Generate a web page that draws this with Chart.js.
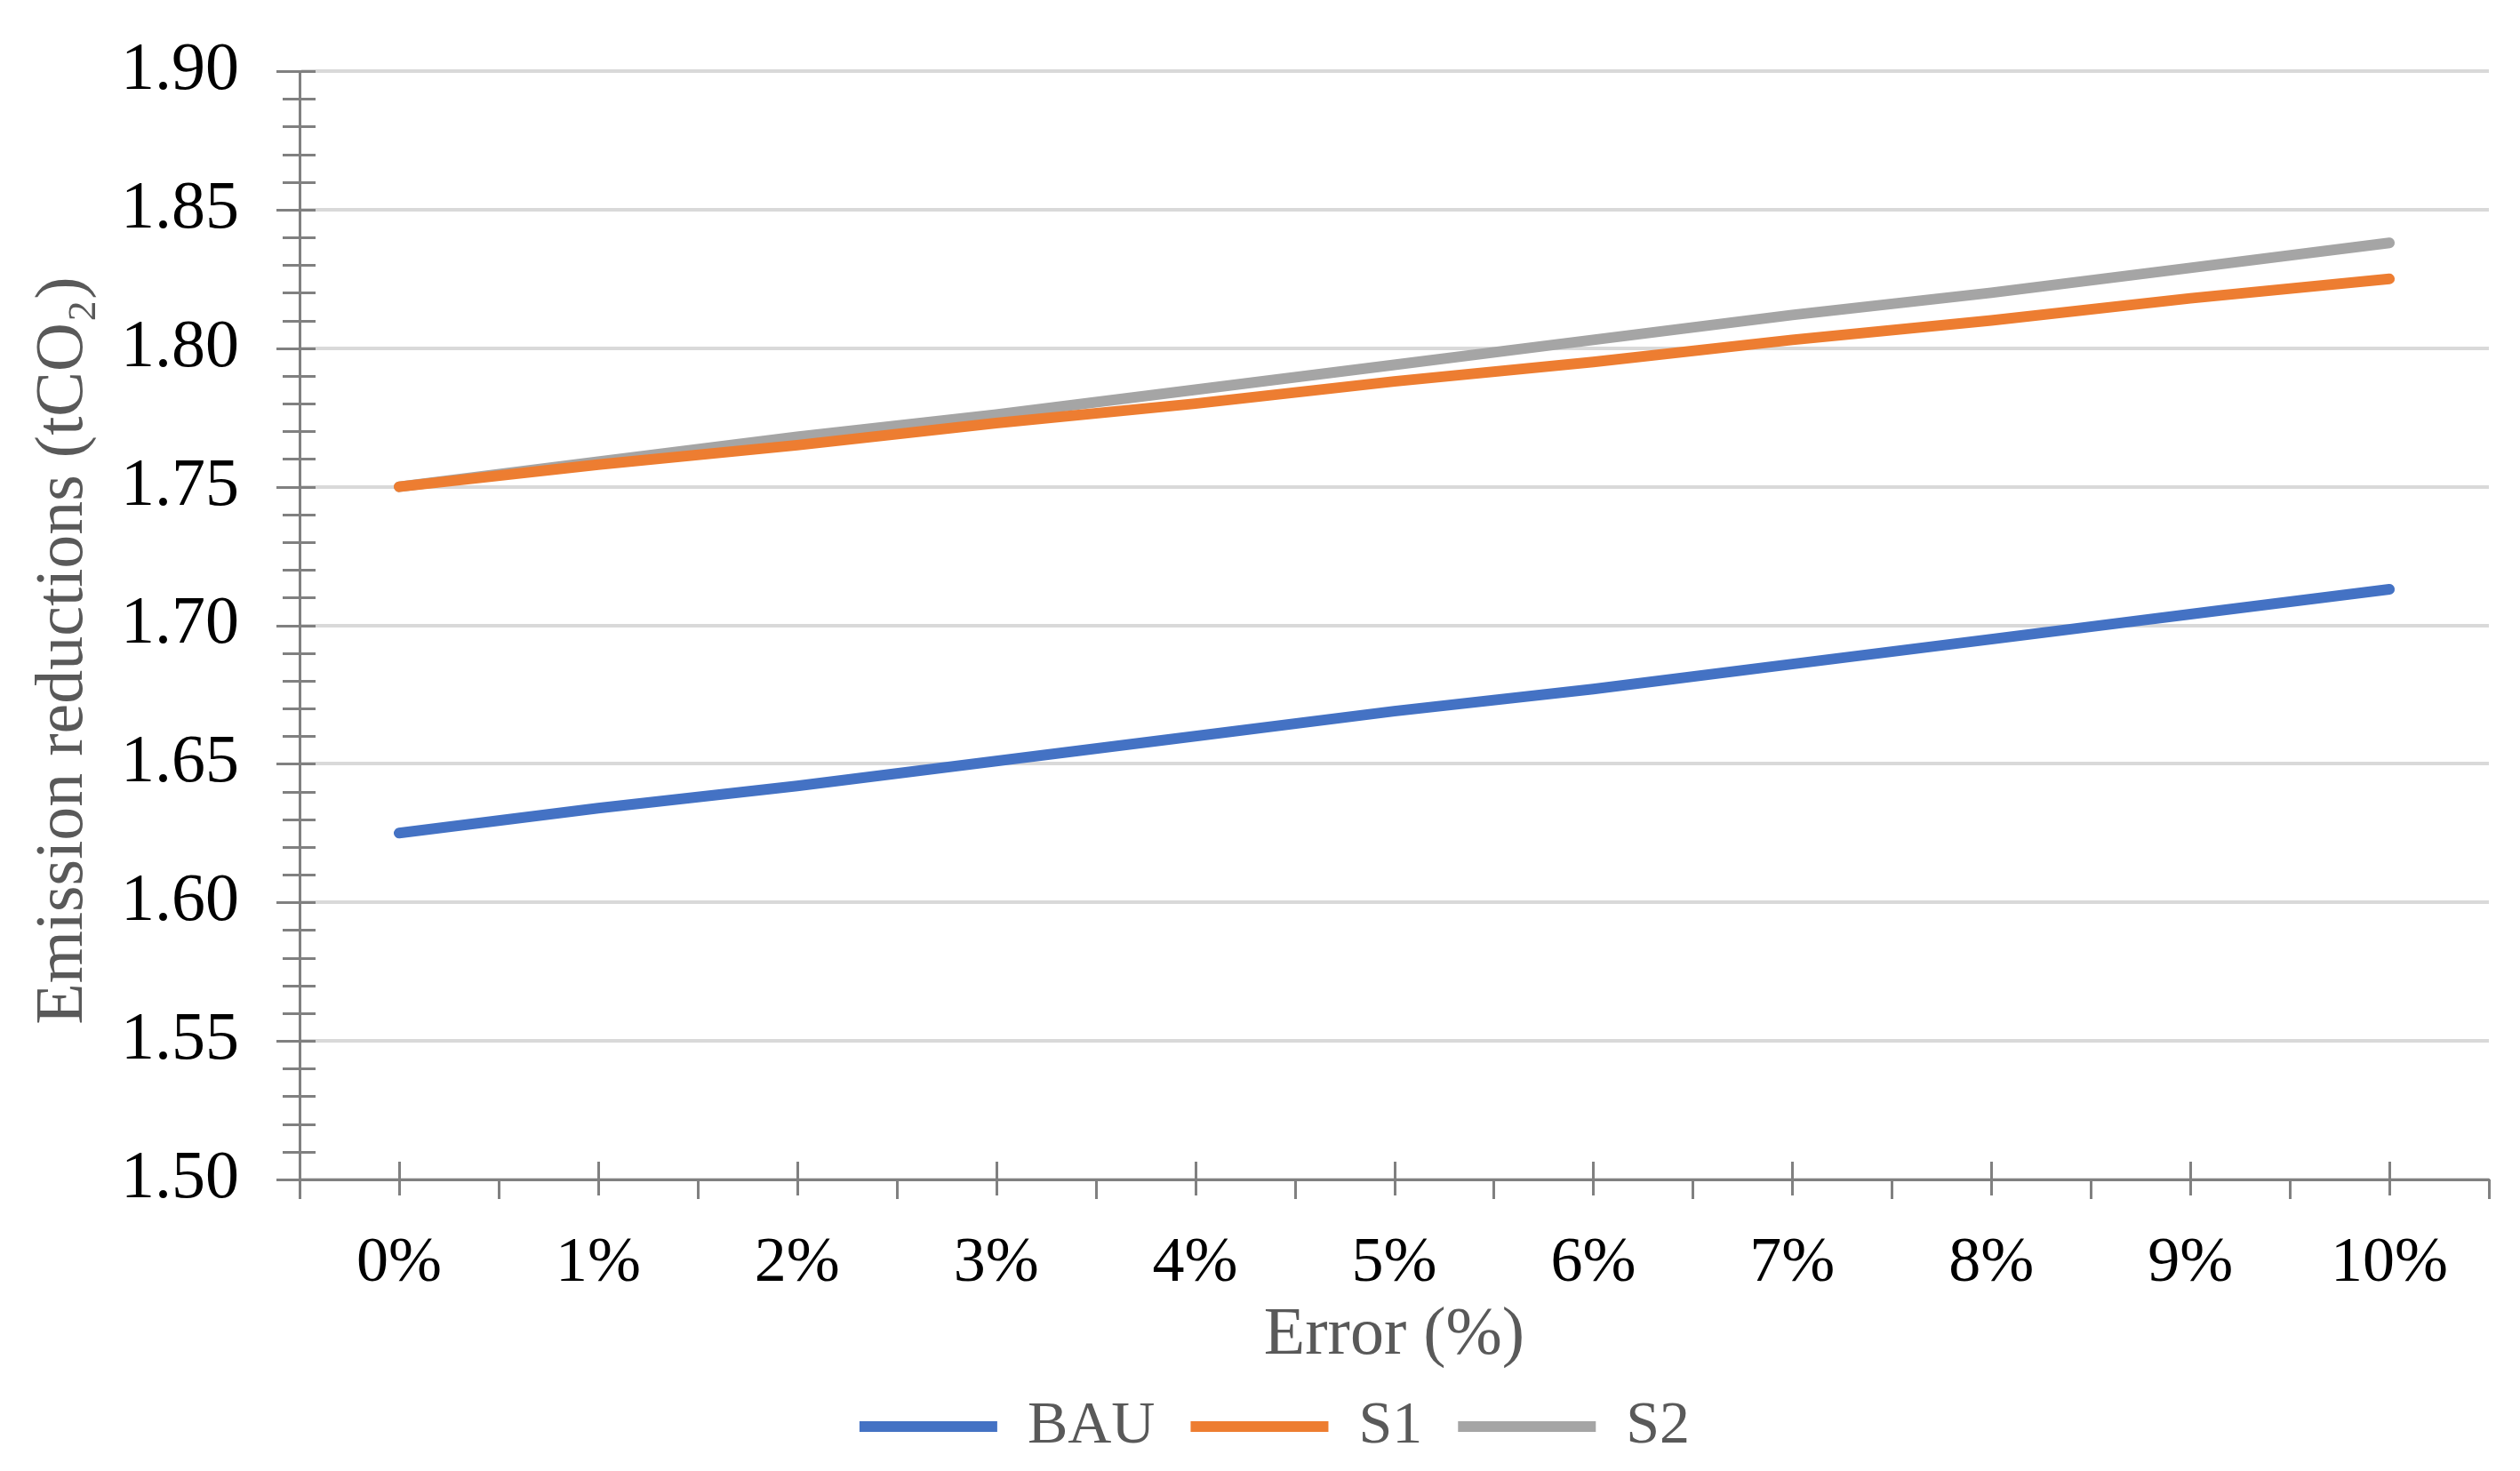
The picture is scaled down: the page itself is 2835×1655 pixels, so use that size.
<!DOCTYPE html>
<html>
<head>
<meta charset="utf-8">
<script src="https://cdn.jsdelivr.net/npm/chart.js@4/dist/chart.umd.min.js"></script>
<style>
  html, body { margin: 0; padding: 0; background: #fff; }
  #wrap { width: 2835px; height: 1655px; }
</style>
</head>
<body>
<div id="wrap"><canvas id="chart"></canvas></div>
<script>
var categories = ['0%', '1%', '2%', '3%', '4%', '5%', '6%', '7%', '8%', '9%', '10%'];
var bauValues = [1.625, 1.634, 1.642, 1.651, 1.660, 1.669, 1.677, 1.686, 1.695, 1.704, 1.713];
var s1Values = [1.750, 1.758, 1.765, 1.773, 1.780, 1.788, 1.795, 1.803, 1.810, 1.818, 1.825];
var s2Values = [1.750, 1.759, 1.768, 1.776, 1.785, 1.794, 1.803, 1.812, 1.820, 1.829, 1.838];
var yMin = 1.50;
var yMax = 1.90;
var yStep = 0.05;
var yMinorStep = 0.01;

var axisGray = '#808080';
var serif = '"Liberation Serif", "Times New Roman", serif';

// tick marks like the office chart: minor ticks on y, ticks at centres and boundaries on x
var tickMarks = {
    id: 'tickMarks',
    afterLayout: function (chart) {
        // legend text sits closer to its line in the original, nudge the block right
        if (chart.legend) {
            chart.legend.left += 34;
            chart.legend.right += 34;
        }
    },
    afterDraw: function (chart) {
        var ctx = chart.ctx;
        var x = chart.scales.x;
        var y = chart.scales.y;
        ctx.save();
        ctx.strokeStyle = axisGray;
        ctx.lineWidth = 3;
        ctx.beginPath();
        var n = Math.round((yMax - yMin) / yMinorStep);
        for (var i = 0; i <= n; i++) {
            var v = yMin + i * yMinorStep;
            var py = Math.round(y.getPixelForValue(v)) + 0.5;
            var major = i % 5 === 0;
            ctx.moveTo(x.left - (major ? 26 : 19), py);
            ctx.lineTo(x.left + 18, py);
        }
        var step = x.getPixelForValue(1) - x.getPixelForValue(0);
        for (var j = 0; j < categories.length; j++) {
            var cx = Math.round(x.getPixelForValue(j)) + 0.5;
            ctx.moveTo(cx, y.bottom - 20);
            ctx.lineTo(cx, y.bottom + 18);
            var bx = Math.round(x.getPixelForValue(j) + step / 2) + 0.5;
            ctx.moveTo(bx, y.bottom);
            ctx.lineTo(bx, y.bottom + 22);
        }
        var b0 = Math.round(x.getPixelForValue(0) - step / 2) + 0.5;
        ctx.moveTo(b0, y.bottom);
        ctx.lineTo(b0, y.bottom + 22);
        ctx.stroke();
        ctx.restore();
    }
};

function series(label, values, color) {
    return {
        label: label,
        data: values,
        borderColor: color,
        backgroundColor: color,
        borderWidth: 12,
        borderCapStyle: 'round',
        borderJoinStyle: 'round',
        pointRadius: 0,
        pointHoverRadius: 0,
        pointStyle: 'line',
        tension: 0
    };
}

new Chart(document.getElementById('chart'), {
    type: 'line',
    data: {
        labels: categories,
        datasets: [
            series('BAU', bauValues, '#4472C4'),
            series('S1', s1Values, '#ED7D31'),
            series('S2', s2Values, '#A5A5A5')
        ]
    },
    options: {
        responsive: true,
        maintainAspectRatio: false,
        animation: false,
        devicePixelRatio: 1,
        layout: { padding: { top: 80, right: 35, bottom: 6, left: 0 } },
        plugins: {
            tooltip: { enabled: false },
            legend: {
                position: 'bottom',
                labels: {
                    usePointStyle: true,
                    pointStyle: 'line',
                    pointStyleWidth: 155,
                    boxHeight: 10,
                    padding: 40,
                    color: '#595959',
                    font: { family: serif, size: 68 }
                }
            }
        },
        scales: {
            x: {
                offset: true,
                afterFit: function (scale) { scale.height = 204; },
                grid: { display: false, drawTicks: false },
                border: { display: true, color: axisGray, width: 3 },
                ticks: {
                    padding: 52,
                    color: '#000',
                    font: { family: serif, size: 72 }
                },
                title: {
                    display: true,
                    text: 'Error (%)',
                    color: '#595959',
                    padding: { top: 0, bottom: -18 },
                    font: { family: serif, size: 76 }
                }
            },
            y: {
                min: yMin,
                max: yMax,
                afterFit: function (scale) { scale.width = 337; },
                grid: { color: '#D9D9D9', lineWidth: 4, drawTicks: true, tickLength: 68, tickColor: 'transparent' },
                border: { display: true, color: axisGray, width: 3 },
                ticks: {
                    stepSize: yStep,
                    padding: 0,
                    color: '#000',
                    font: { family: serif, size: 76 },
                    callback: function (value) { return Number(value).toFixed(2); }
                },
                title: {
                    display: true,
                    text: 'Emission reductions (tCO\u2082)   ',
                    color: '#595959',
                    padding: { top: 26, bottom: 0 },
                    font: { family: serif, size: 76 }
                }
            }
        }
    },
    plugins: [tickMarks]
});
</script>
</body>
</html>
